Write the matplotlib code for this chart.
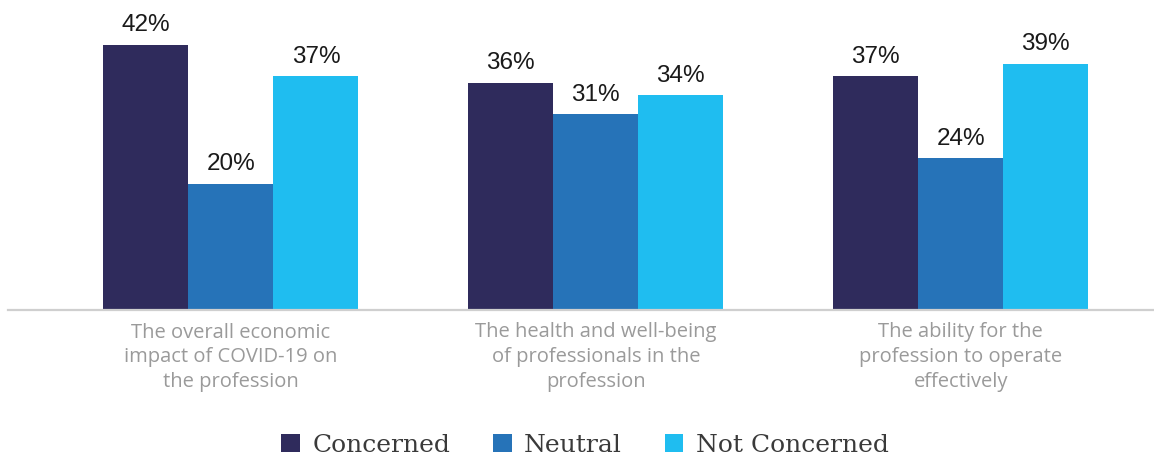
import numpy as np
import matplotlib.pyplot as plt
from matplotlib.patches import Patch

# data
categories = [
    "The overall economic\nimpact of COVID-19 on\nthe profession",
    "The health and well-being\nof professionals in the\nprofession",
    "The ability for the\nprofession to operate\neffectively",
]
series_names = ["Concerned", "Neutral", "Not Concerned"]
concerned = [42, 36, 37]
neutral = [20, 31, 24]
not_concerned = [37, 34, 39]

colors = ["#2f2b5c", "#2673b8", "#1fbdf0"]

fig = plt.figure(figsize=(11.54, 4.58), dpi=100)
ax = fig.add_axes([8 / 1154, 148 / 458, 1146 / 1154, 310 / 458])

x = np.arange(len(categories))
width = 0.233
for i, (vals, name) in enumerate(zip([concerned, neutral, not_concerned], series_names)):
    pos = x + (i - 1) * width
    bars = ax.bar(pos, vals, width, color=colors[i], label=name, zorder=2)
    for b, v in zip(bars, vals):
        ax.annotate(f"{v}%", (b.get_x() + b.get_width() / 2, v),
                    xytext=(0, 6), textcoords="offset points",
                    ha="center", va="bottom", fontsize=17.5,
                    family="Liberation Sans", color="#1a1a1a")

ax.set_xlim(-0.611, 2.53)
ax.set_ylim(0, 49.1)
for s in ["top", "right", "left"]:
    ax.spines[s].set_visible(False)
ax.spines["bottom"].set_color("#cfcfcf")
ax.spines["bottom"].set_linewidth(1.6)
ax.set_yticks([])
ax.set_xticks([])

for xi, cat in zip(x, categories):
    ax.annotate(cat, (xi, 0), xytext=(0, -9), textcoords="offset points",
                ha="center", va="top", fontsize=14.5, family="Open Sans",
                color="#9a9a9a", linespacing=1.3, annotation_clip=False)

handles = [Patch(facecolor=c, label=n) for c, n in zip(colors, series_names)]
fig.legend(handles=handles, loc="center", bbox_to_anchor=(585 / 1154, 1 - 445 / 458),
           ncol=3, frameon=False, prop={"family": "DejaVu Serif", "size": 18},
           handlelength=0.75, handleheight=0.75, handletextpad=0.5, columnspacing=1.7,
           labelcolor="#3a3a3a")

fig.savefig("out.png", dpi=100)
